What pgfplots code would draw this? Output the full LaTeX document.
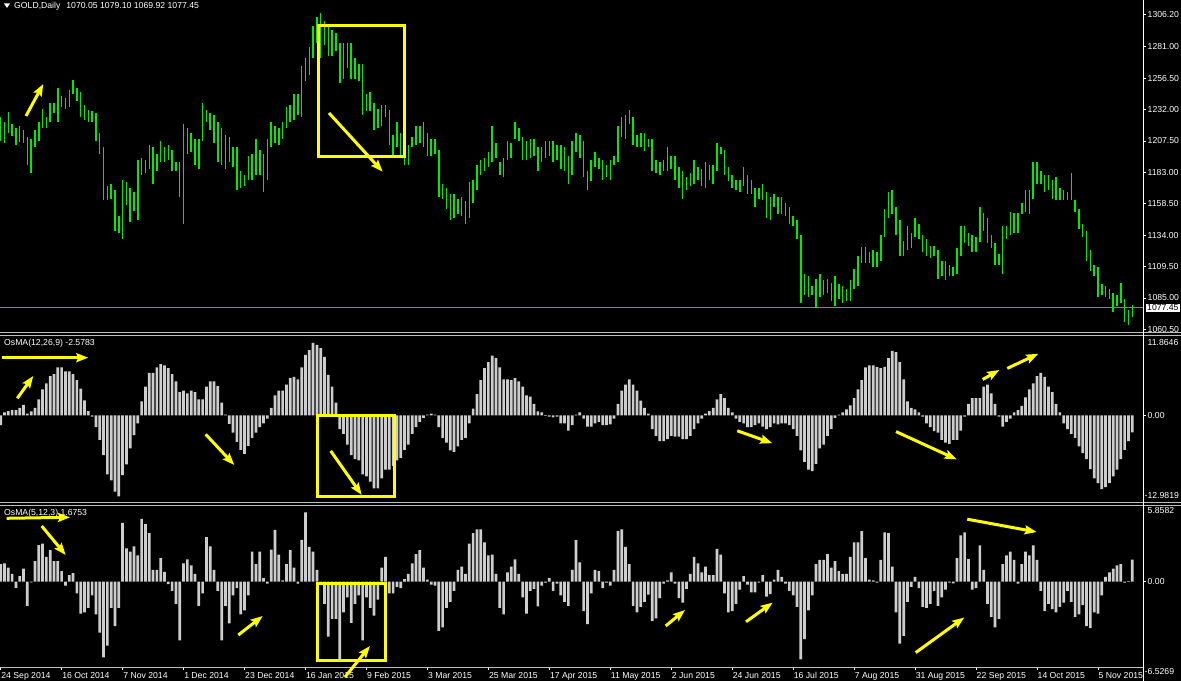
\documentclass[border=0pt]{standalone}
\usepackage{pgfplots}
\pgfplotsset{compat=1.18}
\usepackage{pgfplotstable}
\usepackage{fontspec}
\setmainfont{Liberation Sans}
\usetikzlibrary{arrows.meta}
\definecolor{barGreen}{RGB}{0,235,0}
\definecolor{histGray}{RGB}{205,205,205}
\definecolor{sepGray}{RGB}{190,190,190}
\definecolor{bidLine}{RGB}{119,136,153}
\definecolor{annYellow}{RGB}{255,255,0}
\newcommand{\lbl}{\fontsize{8.7}{10}\selectfont}

\pgfplotstableread[row sep=\\]{h l\\
1226 1207.5\\ 1222 1206\\ 1230 1214\\ 1221 1211\\ 1217.5 1204\\ 1219 1207\\ 1216 1206\\ 1210.5 1189\\ 1209 1182.5\\ 1216 1203\\
1222 1207.5\\ 1232 1217.5\\ 1226 1217.5\\ 1237.4 1222\\ 1237 1229\\ 1249 1222\\ 1242.5 1234\\ 1241 1232.5\\ 1247 1234\\ 1255 1244\\
1249 1239\\ 1245.5 1226\\ 1235.5 1224\\ 1232 1222\\ 1231 1222\\ 1229 1207.5\\ 1214 1197\\ 1203 1161\\ 1172 1161\\ 1174 1162\\
1169 1137\\ 1149 1136\\ 1177 1131\\ 1175.7 1157.5\\ 1171 1144\\ 1167.5 1152.5\\ 1192.6 1146\\ 1194 1181\\ 1192.6 1182.5\\ 1204 1185.6\\
1202.8 1174\\ 1197 1184\\ 1207.5 1191\\ 1203 1191\\ 1204 1192.6\\ 1200.4 1184\\ 1191 1184\\ 1191 1164\\ 1220.7 1142.6\\ 1217.5 1197\\
1214 1199\\ 1209 1189\\ 1209 1185.6\\ 1237.4 1207.5\\ 1232 1222\\ 1229 1216\\ 1227.6 1206\\ 1222 1191\\ 1217.5 1189\\ 1212.4 1185.6\\
1210.5 1191\\ 1203 1187\\ 1203 1169\\ 1184 1171\\ 1181 1172\\ 1196 1177\\ 1197 1177\\ 1209 1181\\ 1200.4 1181\\ 1197 1167.5\\
1209 1177\\ 1222 1203\\ 1219 1206\\ 1217.5 1204\\ 1222 1209\\ 1234 1217.5\\ 1235.5 1222\\ 1244 1224\\ 1244 1228\\ 1266 1226\\
1272 1254\\ 1281 1259\\ 1297.5 1272.4\\ 1304 1284\\ 1307 1272.4\\ 1301 1282\\ 1297.5 1274\\ 1294 1274\\ 1292 1277.6\\ 1284 1252.6\\
1284 1255.8\\ 1284 1264\\ 1284 1255.8\\ 1272.4 1255.8\\ 1267.5 1254\\ 1267.5 1228\\ 1244 1231\\ 1245.6 1231\\ 1237.4 1216\\ 1232 1217.5\\
1235.5 1219\\ 1235.5 1226\\ 1232 1204\\ 1212.4 1195.6\\ 1222 1203\\ 1214 1195.6\\ 1207.5 1189\\ 1204 1189\\ 1210.5 1203\\ 1219 1204\\
1219 1206\\ 1222 1203\\ 1214 1195.6\\ 1209 1195.6\\ 1209 1197\\ 1200.4 1164\\ 1174 1162\\ 1171 1154.6\\ 1166 1146\\ 1166 1147.4\\
1162.5 1150.7\\ 1164 1149\\ 1160.6 1142.6\\ 1175.7 1147.4\\ 1177 1159\\ 1189 1169\\ 1192.6 1181\\ 1194 1184\\ 1199 1187.4\\ 1219 1191\\
1206 1194\\ 1191 1181\\ 1194 1179\\ 1207.5 1192.6\\ 1206 1194\\ 1222 1209\\ 1217.5 1207.5\\ 1210.5 1192.6\\ 1207.5 1192.6\\ 1209 1194\\
1209 1195.6\\ 1203 1184\\ 1203 1191\\ 1207.5 1194\\ 1207.5 1195.6\\ 1207.5 1191\\ 1204 1192.6\\ 1204 1185.6\\ 1203 1184\\ 1196 1174\\
1207.5 1181\\ 1214 1199\\ 1212.4 1194\\ 1207.5 1179\\ 1184 1169\\ 1192.6 1176\\ 1199 1187.4\\ 1194 1185.6\\ 1192.6 1177\\ 1189 1179\\
1192.6 1177\\ 1196 1189\\ 1219 1191\\ 1226 1210.5\\ 1227.6 1209\\ 1232 1220.6\\ 1226 1204\\ 1212.4 1203\\ 1214 1203\\ 1214 1200\\
1209 1203\\ 1209 1184\\ 1192.6 1182.5\\ 1191 1181\\ 1192.6 1184\\ 1203 1184\\ 1196 1185.6\\ 1196 1177\\ 1187.4 1171\\ 1184 1162.5\\
1179 1169\\ 1182.5 1172\\ 1192.6 1174\\ 1187.4 1177\\ 1185.6 1172\\ 1191 1171\\ 1189 1177\\ 1189 1174\\ 1206 1184\\ 1203 1197\\
1200.4 1181\\ 1187.4 1176\\ 1181 1171\\ 1177 1169\\ 1177 1167.5\\ 1187.4 1172\\ 1181 1166\\ 1177 1166\\ 1171 1156\\ 1171 1162.5\\
1174 1161\\ 1167.5 1147.4\\ 1164 1146\\ 1166 1156\\ 1164 1150.7\\ 1164 1150.7\\ 1159 1149\\ 1156 1142.6\\ 1149 1141\\ 1146 1131\\
1134 1081\\ 1104 1087\\ 1102 1086\\ 1094 1087\\ 1100 1077\\ 1104 1086\\ 1099 1087\\ 1100 1089\\ 1097 1082.6\\ 1102 1079\\
1096 1084\\ 1094 1081\\ 1092 1082.6\\ 1099 1082.6\\ 1107.5 1092\\ 1117.4 1094\\ 1125 1112\\ 1125 1112\\ 1120.6 1112\\ 1122 1109\\
1120.6 1109\\ 1134 1114\\ 1154 1132.5\\ 1167.5 1147.4\\ 1169 1150.7\\ 1156 1134\\ 1146 1117.4\\ 1129 1117.4\\ 1141 1122\\ 1135.6 1124\\
1147.4 1132.5\\ 1142.6 1131\\ 1134 1120.6\\ 1131 1117.4\\ 1125.5 1116\\ 1125.5 1117.4\\ 1122 1100\\ 1114 1102\\ 1114 1099\\ 1110.7 1102\\
1109 1102\\ 1124 1104\\ 1141 1117.4\\ 1141 1127.6\\ 1135.6 1125.7\\ 1134 1120.6\\ 1132.5 1120.6\\ 1156 1129\\ 1151 1137.4\\ 1147.4 1127.6\\
1134 1124\\ 1127.6 1110.7\\ 1119 1110.7\\ 1141 1104\\ 1141 1131\\ 1152 1134\\ 1151 1135.6\\ 1151 1135.6\\ 1159 1150.7\\ 1169 1152\\
1169 1150.7\\ 1191 1162.5\\ 1191 1174\\ 1184 1174\\ 1181 1167.5\\ 1181 1169\\ 1177 1162.5\\ 1179 1161\\ 1171 1161\\ 1169 1161\\
1167.5 1161\\ 1182.5 1161\\ 1161 1152\\ 1154 1139\\ 1142.6 1132.5\\ 1137.4 1114\\ 1122 1105.6\\ 1110.7 1102\\ 1109 1086\\ 1096 1087\\
1094 1086\\ 1092 1084\\ 1089 1074\\ 1087 1079\\ 1097 1081\\ 1084 1066\\ 1075.6 1064\\ 1079.1 1069.92\\
}\price

\pgfplotstableread[row sep=\\]{v\\
-1.5\\ 0.45\\ 0.64\\ 0.77\\ 0.77\\ 1.1\\ 1.55\\ 0.26\\ 0.58\\ 1.1\\
2.4\\ 3.9\\ 4.8\\ 5.9\\ 6.2\\ 7.2\\ 7.2\\ 6.6\\ 6.6\\ 6.2\\
5.3\\ 4.0\\ 2.25\\ 0.64\\ -0.2\\ -1.8\\ -3.7\\ -6.0\\ -8.9\\ -9.8\\
-11.5\\ -12.2\\ -9.0\\ -7.4\\ -5.0\\ -3.0\\ -1.2\\ 2.1\\ 4.3\\ 6.4\\
6.4\\ 7.2\\ 7.7\\ 7.5\\ 7.1\\ 6.2\\ 5.1\\ 3.5\\ 3.7\\ 3.3\\
3.7\\ 3.5\\ 2.4\\ 2.4\\ 4.3\\ 5.1\\ 5.1\\ 4.4\\ 1.9\\ 0.1\\
-1.3\\ -2.6\\ -4.0\\ -5.2\\ -5.8\\ -4.6\\ -3.4\\ -2.6\\ -1.8\\ -1.2\\
-0.5\\ 1.1\\ 3.0\\ 3.7\\ 3.7\\ 4.6\\ 5.6\\ 5.8\\ 5.4\\ 7.2\\
9.1\\ 9.8\\ 10.9\\ 10.6\\ 10.1\\ 8.8\\ 6.1\\ 4.3\\ 1.9\\ -2.1\\
-2.8\\ -4.4\\ -6.0\\ -6.6\\ -6.8\\ -8.9\\ -9.2\\ -10.0\\ -11.0\\ -11.0\\
-9.5\\ -8.2\\ -8.2\\ -7.6\\ -6.8\\ -6.4\\ -5.2\\ -4.4\\ -2.8\\ -1.8\\
-1.0\\ -0.4\\ 0.1\\ 0.25\\ 0.1\\ -1.8\\ -3.4\\ -4.1\\ -5.3\\ -5.5\\
-4.7\\ -3.7\\ -3.4\\ -1.2\\ 1.0\\ 3.2\\ 5.3\\ 7.1\\ 8.0\\ 9.0\\
8.6\\ 7.2\\ 5.4\\ 5.4\\ 5.3\\ 5.6\\ 5.1\\ 4.3\\ 3.0\\ 2.8\\
1.7\\ 0.6\\ 0.45\\ -0.1\\ -0.2\\ -0.3\\ -0.2\\ -1.2\\ -1.2\\ -2.3\\
-1.5\\ 0.1\\ 0.45\\ -0.5\\ -1.7\\ -1.7\\ -1.2\\ -1.0\\ -1.5\\ -1.5\\
-1.35\\ -0.5\\ 1.7\\ 3.7\\ 4.6\\ 5.4\\ 4.6\\ 3.7\\ 2.2\\ 1.1\\
0.26\\ -2.1\\ -3.1\\ -3.9\\ -3.9\\ -3.6\\ -3.1\\ -3.2\\ -3.2\\ -3.6\\
-3.6\\ -3.1\\ -2.1\\ -1.2\\ -0.5\\ 0.26\\ 0.64\\ 1.1\\ 2.4\\ 3.2\\
2.6\\ 1.1\\ 0.45\\ -0.5\\ -1.0\\ -1.2\\ -1.8\\ -1.8\\ -1.5\\ -1.2\\
-1.7\\ -2.1\\ -1.8\\ -1.2\\ -1.35\\ -1.2\\ -1.2\\ -1.5\\ -2.1\\ -3.1\\
-5.3\\ -7.0\\ -8.2\\ -8.4\\ -7.3\\ -5.0\\ -4.4\\ -3.1\\ -2.1\\ -0.4\\
0.1\\ 0.45\\ 0.9\\ 1.5\\ 2.6\\ 3.9\\ 5.3\\ 7.2\\ 7.5\\ 7.5\\
7.3\\ 7.1\\ 7.3\\ 8.6\\ 9.7\\ 9.5\\ 8.0\\ 5.4\\ 2.1\\ 1.1\\
0.9\\ 0.45\\ -0.2\\ -1.2\\ -1.8\\ -2.4\\ -2.6\\ -3.7\\ -4.1\\ -4.3\\
-3.7\\ -3.7\\ -2.3\\ -0.2\\ 1.7\\ 2.6\\ 2.6\\ 2.6\\ 4.3\\ 4.6\\
3.3\\ 1.7\\ -0.2\\ -1.7\\ -1.0\\ -0.5\\ 0.45\\ 0.77\\ 1.4\\ 2.7\\
3.9\\ 4.8\\ 5.9\\ 6.4\\ 5.8\\ 4.3\\ 3.5\\ 1.7\\ 0.45\\ -1.2\\
-2.1\\ -2.8\\ -3.4\\ -4.7\\ -5.7\\ -6.6\\ -8.1\\ -9.5\\ -10.2\\ -11.1\\
-10.8\\ -10.2\\ -9.2\\ -8.2\\ -6.6\\ -5.2\\ -3.9\\ -2.5783\\
}\osmaA

\pgfplotstableread[row sep=\\]{v\\
1.34\\ 1.4\\ 1.08\\ 0.6\\ -0.5\\ 0.43\\ 1.0\\ -1.86\\ -0.05\\ 1.57\\
2.8\\ 2.9\\ 1.9\\ 2.4\\ 1.57\\ 1.57\\ 0.8\\ -0.3\\ 0.5\\ 0.65\\
-0.9\\ -2.45\\ -2.35\\ -2.0\\ -1.05\\ -2.5\\ -3.9\\ -5.8\\ -4.9\\ -2.0\\
-3.4\\ -2.0\\ 4.5\\ 2.55\\ 2.3\\ 2.7\\ 2.0\\ 4.8\\ 4.4\\ 3.7\\
0.9\\ 0.9\\ 1.8\\ 0.75\\ -0.2\\ -0.7\\ -1.7\\ -4.5\\ 1.4\\ 1.7\\
1.24\\ 0.6\\ -1.86\\ -0.9\\ 3.4\\ 2.7\\ 0.9\\ -0.7\\ -4.5\\ -1.86\\
-3.2\\ -1.05\\ -0.5\\ -2.5\\ -2.2\\ -1.05\\ 2.3\\ 1.34\\ 2.3\\ 0.26\\
-0.16\\ 2.45\\ 3.95\\ 2.06\\ 0.1\\ 1.34\\ 2.4\\ 1.08\\ -0.16\\ 3.2\\
5.3\\ 2.65\\ 2.3\\ 0.9\\ -0.05\\ -1.7\\ -4.2\\ -2.85\\ -2.85\\ -6.1\\
-2.35\\ -1.2\\ -3.16\\ -1.7\\ -1.05\\ -4.5\\ -1.2\\ -2.0\\ -2.6\\ -1.37\\
1.08\\ 1.9\\ -0.9\\ -0.9\\ -0.4\\ -0.5\\ 0.2\\ 0.6\\ 1.4\\ 2.1\\
2.4\\ 1.08\\ 0.16\\ -0.23\\ -0.3\\ -3.76\\ -3.5\\ -2.0\\ -1.54\\ -0.7\\
0.9\\ 1.14\\ 0.6\\ 2.9\\ 3.7\\ 4.0\\ 4.0\\ 3.0\\ 2.0\\ 2.06\\
0.6\\ -2.0\\ -2.5\\ 0.7\\ 1.14\\ 1.7\\ 0.6\\ -1.2\\ -2.45\\ -0.7\\
-0.55\\ -1.9\\ -0.3\\ -0.07\\ 0.26\\ -0.7\\ -0.16\\ -1.05\\ -1.54\\ -1.86\\
0.9\\ 3.2\\ 1.47\\ -2.26\\ -3.24\\ -0.9\\ 0.9\\ 0.8\\ -0.5\\ -0.07\\
-0.3\\ 0.9\\ 3.86\\ 4.0\\ 2.65\\ 1.34\\ -1.86\\ -2.35\\ -1.93\\ -1.54\\
-1.0\\ -3.0\\ -2.8\\ -1.27\\ -0.16\\ 0.1\\ 0.7\\ -0.16\\ -1.27\\ -1.6\\
-0.55\\ 0.6\\ 1.9\\ 1.4\\ 0.7\\ 1.14\\ 0.5\\ 0.5\\ 2.5\\ 2.06\\
-0.9\\ -2.35\\ -2.26\\ -1.7\\ -0.62\\ 0.43\\ -0.23\\ -0.82\\ -0.82\\ -0.07\\
0.5\\ -1.14\\ -0.95\\ 0.16\\ 0.9\\ 0.36\\ -0.16\\ -0.7\\ -1.05\\ -1.93\\
-5.95\\ -4.4\\ -2.2\\ -1.05\\ 1.34\\ 1.67\\ 1.67\\ 2.1\\ 1.08\\ 1.57\\
0.8\\ 0.6\\ 0.6\\ 1.9\\ 3.0\\ 3.0\\ 3.86\\ 1.8\\ 0.16\\ 0.1\\
-0.07\\ 1.67\\ 3.76\\ 3.7\\ 1.14\\ -2.35\\ -4.74\\ -4.15\\ -1.54\\ -0.4\\
0.36\\ -0.5\\ -1.93\\ -2.0\\ -1.7\\ -0.7\\ -1.86\\ -1.2\\ -0.62\\ -0.07\\
-0.13\\ 1.8\\ 3.53\\ 3.76\\ 1.73\\ -0.62\\ -0.5\\ 2.78\\ 0.9\\ -1.7\\
-2.7\\ -3.5\\ -2.85\\ 1.34\\ 2.0\\ 2.3\\ 1.67\\ -0.16\\ 1.34\\ 2.3\\
2.0\\ 2.78\\ 1.67\\ -0.7\\ -2.26\\ -1.7\\ -2.1\\ -2.35\\ -1.93\\ -1.6\\
-0.7\\ -1.54\\ -2.7\\ -2.5\\ -1.8\\ -3.4\\ -3.56\\ -2.35\\ -2.45\\ -1.05\\
0.36\\ 0.7\\ 1.0\\ 1.24\\ 1.34\\ -0.07\\ 0.03\\ 1.6753\\
}\osmaB

\pgfplotsset{
  panel/.style={scale only axis, width=1143bp, xmin=-0.176, xmax=299.82,
    anchor=south west, axis y line*=right,
    y axis line style={draw=none}, tick align=outside, major tick length=3bp,
    ytick style={draw=white, line width=0.7bp},
    yticklabel style={font=\lbl, text=white, anchor=west, inner sep=0pt, xshift=1.5bp},
  },
  nox/.style={axis x line=none, xtick=\empty},
  hist/.style={ybar, bar width=2.7bp, fill=histGray, draw=none, forget plot},
}
\tikzset{ann/.style={annYellow, line width=3bp, -{Stealth[length=12bp,width=9bp,inset=2bp]}},
         annbox/.style={annYellow, line width=3bp}}

\begin{document}
\begin{tikzpicture}
\fill[black] (0,0) rectangle (1181bp,681bp);

% ---------- price panel ----------
\begin{axis}[panel, nox, at={(0bp,349bp)}, height=332bp, ymin=1058.38, ymax=1317.44,
  ytick={1060.5,1085,1109.5,1134,1158.5,1183,1207.5,1232,1256.5,1281,1306.2},
  yticklabels={1060.50,1085.00,1109.50,1134.00,1158.50,1183.00,1207.50,1232.00,1256.50,1281.00,1306.20}]
\addplot[bidLine, line width=0.8bp, forget plot] coordinates {(-0.176,1077.45) (299.82,1077.45)};
\addplot[draw=none, mark=none, forget plot,
  error bars/.cd, y dir=both, y explicit, error mark=none,
  error bar style={draw=barGreen, line width=1.5bp}]
  table[x expr=\coordindex, y expr=(\thisrow{h}+\thisrow{l})/2, y error expr=(\thisrow{h}-\thisrow{l})/2] {\price};
\end{axis}

% ---------- OsMA(12,26,9) ----------
\begin{axis}[panel, nox, at={(0bp,179.5bp)}, height=165bp, ymin=-12.9819, ymax=11.8646,
  ytick={0}, yticklabels={0.00}]
\addplot[hist] table[x expr=\coordindex, y=v] {\osmaA};
\end{axis}

% ---------- OsMA(5,12,3) ----------
\begin{axis}[panel, at={(0bp,14bp)}, height=162bp, ymin=-6.5269, ymax=5.8582,
  ytick={0}, yticklabels={0.00},
  axis x line*=bottom, x axis line style={draw=none, -},
  xtick={0,16,32,48,64,80,96,112,128,144,160,176,192,208,224,240,256,272,288},
  xticklabels={24 Sep 2014,16 Oct 2014,7 Nov 2014,1 Dec 2014,23 Dec 2014,16 Jan 2015,9 Feb 2015,3 Mar 2015,25 Mar 2015,17 Apr 2015,11 May 2015,2 Jun 2015,24 Jun 2015,16 Jul 2015,7 Aug 2015,31 Aug 2015,22 Sep 2015,14 Oct 2015,5 Nov 2015},
  xtick style={draw=white, line width=0.7bp},
  xticklabel style={font=\lbl, text=white, anchor=north west, inner sep=0pt, xshift=0.5bp, yshift=-2.5bp}]
\addplot[hist] table[x expr=\coordindex, y=v] {\osmaB};
\end{axis}

% ---------- frame, labels, annotations (image pixel coordinates) ----------
\begin{scope}[x=1bp, y=-1bp, shift={(0,681bp)}]
  \draw[sepGray, line width=0.8bp] (0,332.8) -- (1181,332.8);
  \draw[sepGray, line width=0.8bp] (0,335.6) -- (1181,335.6);
  \draw[sepGray, line width=0.8bp] (0,502.4) -- (1181,502.4);
  \draw[sepGray, line width=0.8bp] (0,505.2) -- (1181,505.2);
  \draw[sepGray, line width=0.8bp] (0,667.5) -- (1143,667.5);
  \draw[white, line width=0.8bp] (1143,0) -- (1143,681);

  \fill[white] (4,3.5) -- (10,3.5) -- (7,8) -- cycle;
  \node[anchor=west, inner sep=0pt, text=white, font=\lbl] at (14,6) {GOLD,Daily\hspace{6bp}1070.05 1079.10 1069.92 1077.45};
  \node[anchor=west, inner sep=0pt, text=white, font=\lbl] at (4,343) {OsMA(12,26,9) -2.5783};
  \node[anchor=west, inner sep=0pt, text=white, font=\lbl] at (4,513) {OsMA(5,12,3) 1.6753};

  \node[anchor=west, inner sep=1pt, fill=white, text=black, font=\lbl] at (1146,307.6) {1077.45};
  \node[anchor=west, inner sep=0pt, text=white, font=\lbl] at (1147.5,342.7) {11.8646};
  \node[anchor=west, inner sep=0pt, text=white, font=\lbl] at (1144.5,496) {-12.9819};
  \node[anchor=west, inner sep=0pt, text=white, font=\lbl] at (1147.5,511) {5.8582};
  \node[anchor=west, inner sep=0pt, text=white, font=\lbl] at (1144.5,671.5) {-6.5269};

  % price panel
  \draw[annbox] (318.3,25.7) rectangle (404,156.7);
  \draw[ann] (329,113) -- (382.7,171.7);
  \draw[ann] (26,116) -- (43.3,84);
  % OsMA(12,26,9)
  \draw[ann] (1.7,357.7) -- (88.3,357.7);
  \draw[ann] (17.3,398.3) -- (33.3,376);
  \draw[ann] (205.7,434.3) -- (234.3,465);
  \draw[annbox] (317,415.4) rectangle (394,496.6);
  \draw[ann] (330.7,450.9) -- (361.7,494.9);
  \draw[ann] (737.3,430.8) -- (772.3,443.2);
  \draw[ann] (896,431.6) -- (956.7,459.4);
  \draw[ann] (982.7,379.5) -- (999.3,370);
  \draw[ann] (1007.3,368.4) -- (1038.3,353.8);
  % OsMA(5,12,3)
  \draw[ann] (6.7,518.3) -- (70,517.3);
  \draw[ann] (41.7,526) -- (65.7,555);
  \draw[ann] (238.3,635) -- (262.7,616);
  \draw[annbox] (317.7,583.3) rectangle (385,660.3);
  \draw[ann] (345,677) -- (370,646);
  \draw[ann] (665.7,626) -- (685,610);
  \draw[ann] (746,621.8) -- (772.7,602.6);
  \draw[ann] (915.7,652.6) -- (964.3,617.5);
  \draw[ann] (967.3,519.2) -- (1036.7,532);
\end{scope}
\pgfresetboundingbox
\useasboundingbox (0,0) rectangle (1181bp,681bp);
\end{tikzpicture}
\end{document}
